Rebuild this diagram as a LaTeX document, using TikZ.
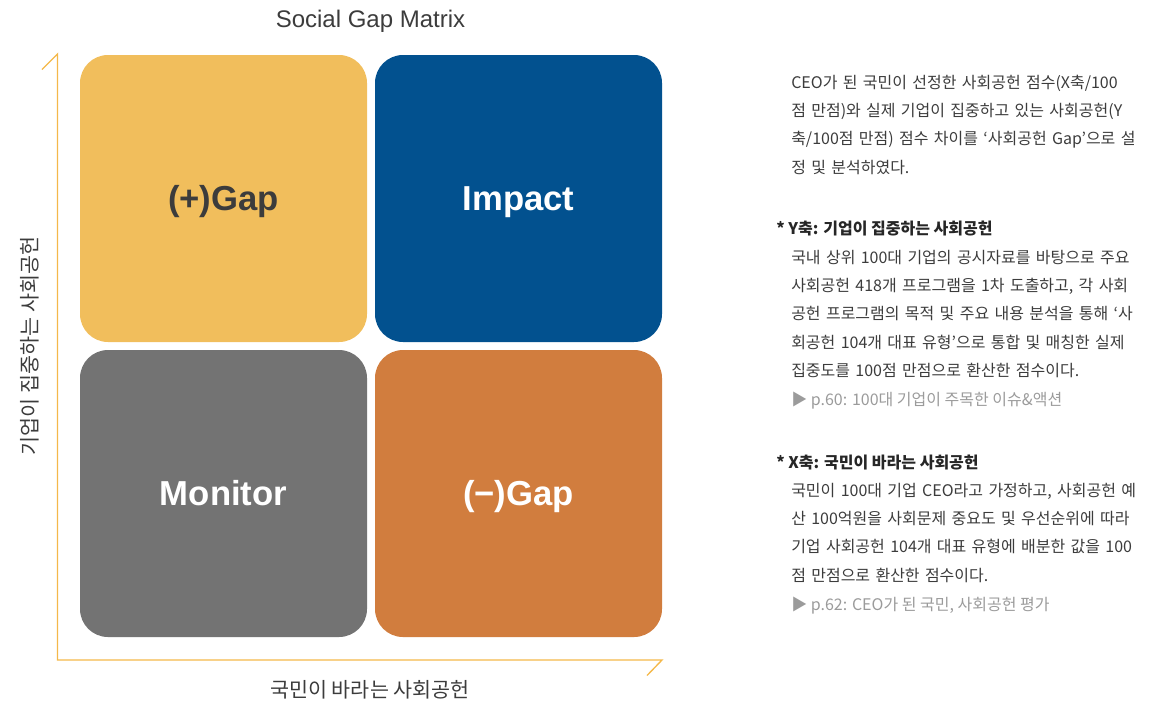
\documentclass[tikz,border=0pt]{standalone}
\usepackage{fontspec}
\setmainfont{Liberation Sans}
\newfontfamily\kr{Noto Sans CJK KR}
\usepackage{tikz}
\definecolor{gapyellow}{HTML}{F1BE5C}
\definecolor{impactblue}{HTML}{02518F}
\definecolor{monitorgray}{HTML}{737373}
\definecolor{gaporange}{HTML}{D17D3E}
\definecolor{axisline}{HTML}{F4B84A}
\definecolor{textdark}{HTML}{3C3C3C}
\definecolor{textref}{HTML}{9B9B9B}
\newcommand{\jline}[1]{\makebox[276.75pt][s]{#1}}
\tikzset{cell/.style={rounded corners=21pt,minimum width=215.25pt,minimum height=215.25pt,inner sep=0pt,
    text height=18.6pt,text depth=0pt,font=\bfseries\fontsize{26}{30}\selectfont,text=white},
    axis/.style={draw=axisline,line width=1pt},
    axislabel/.style={inner sep=0pt,text=textdark,font=\kr\fontsize{15.5}{18}\selectfont},
    body/.style={anchor=base west,inner sep=0pt,text width=276.75pt,align=left,text=textdark,
    font=\kr\fontsize{12}{21.3}\selectfont},
    head/.style={anchor=base west,inner sep=0pt,text=black!85,font=\kr\bfseries\fontsize{12}{21.3}\selectfont},
    ref/.style={anchor=base west,inner sep=0pt,text=textref,font=\kr\fontsize{12}{21.3}\selectfont}}

\begin{document}
\begin{tikzpicture}[x=0.75pt,y=0.75pt,yscale=-1,xscale=1]
%set diagram to the size of the reference
\path[use as bounding box] (0,0) rectangle (1163,704);

%Shape: Rounded Rect [id:gapplus]
\node[cell,fill=gapyellow,text=textdark] (gapplus) at (223.5,198.5) {(+)Gap};
%Shape: Rounded Rect [id:impact]
\node[cell,fill=impactblue] (impact) at (518.5,198.5) {Impact};
%Shape: Rounded Rect [id:monitor]
\node[cell,fill=monitorgray] (monitor) at (223.5,493.5) {Monitor};
%Shape: Rounded Rect [id:gapminus]
\node[cell,fill=gaporange] (gapminus) at (518.5,493.5) {(−)Gap};

%Straight Lines [id:axes]
\coordinate (origin) at (57.5,660);
\draw[axis] (42,69.5) -- (57.5,54) -- (origin) -- (662,660) -- (647,675.5);

% Text Node
\node[inner sep=0pt,text=textdark,font=\fontsize{18}{21}\selectfont] (title) at (370.5,21) {Social Gap Matrix};
% Text Node
\node[axislabel,rotate=90] (ylabel) at (30,346) {기업이 집중하는 사회공헌};
% Text Node
\node[axislabel] (xlabel) at (370,690) {국민이 바라는 사회공헌};

% Text Node
\node[body] (intro) at (791,88) {\jline{CEO가 된 국민이 선정한 사회공헌 점수(X축/100}\\
\jline{점 만점)와 실제 기업이 집중하고 있는 사회공헌(Y}\\
\jline{축/100점 만점) 점수 차이를 ‘사회공헌 Gap’으로 설}\\
정 및 분석하였다.};

% Text Node
\node[head] (yhead) at (776,234) {* Y축: 기업이 집중하는 사회공헌};
% Text Node
\node[body] (ybody) at (791,263) {\jline{국내 상위 100대 기업의 공시자료를 바탕으로 주요}\\
\jline{사회공헌 418개 프로그램을 1차 도출하고, 각 사회}\\
\jline{공헌 프로그램의 목적 및 주요 내용 분석을 통해 ‘사}\\
\jline{회공헌 104개 대표 유형’으로 통합 및 매칭한 실제}\\
집중도를 100점 만점으로 환산한 점수이다.};
% Text Node
\node[ref] (yref) at (791,405) {▶ p.60: 100대 기업이 주목한 이슈\&액션};

% Text Node
\node[head] (xhead) at (776,468) {* X축: 국민이 바라는 사회공헌};
% Text Node
\node[body] (xbody) at (791,496) {\jline{국민이 100대 기업 CEO라고 가정하고, 사회공헌 예}\\
\jline{산 100억원을 사회문제 중요도 및 우선순위에 따라}\\
\jline{기업 사회공헌 104개 대표 유형에 배분한 값을 100}\\
점 만점으로 환산한 점수이다.};
% Text Node
\node[ref] (xref) at (791,610) {▶ p.62: CEO가 된 국민, 사회공헌 평가};

\end{tikzpicture}
\end{document}
